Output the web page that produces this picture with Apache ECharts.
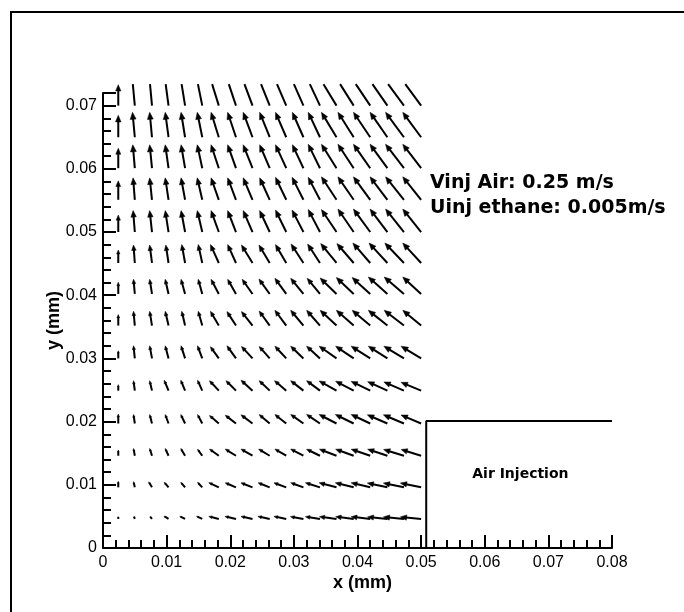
<!DOCTYPE html>
<html>
<head>
<meta charset="utf-8">
<script src="https://cdn.jsdelivr.net/npm/echarts@6/dist/echarts.min.js"></script>
<style>html,body{margin:0;padding:0;background:#fff}#c{width:684px;height:612px}</style>
</head>
<body>
<div id="c"></div>
<script>
// ---- data ----
const xGrid = [0.0024, 0.0050, 0.0077, 0.0103, 0.0129, 0.0156, 0.0182, 0.0209, 0.0235, 0.0262, 0.0288, 0.0315, 0.0341, 0.0367, 0.0394, 0.0420, 0.0447, 0.0473, 0.0500];
const yGrid = [0.0046, 0.0096, 0.0146, 0.0197, 0.0249, 0.0300, 0.0352, 0.0402, 0.0451, 0.0500, 0.0551, 0.0601, 0.0650, 0.0700];
// vector components (relative units), one row per yGrid entry, bottom to top
const U = [
  [0, -0.8, -2.0, -4.5, -5.3, -5.7, -10.0, -11.0, -11.5, -11.8, -12.3, -13.0, -14.5, -17.0, -18.0, -19.0, -19.8, -20.5, -20.7],
  [0, -1.3, -3.3, -4.3, -4.3, -4.7, -10.0, -10.7, -11.5, -11.5, -12.3, -12.7, -14.5, -17.3, -18.3, -19.0, -20.0, -20.5, -20.7],
  [0, -1.3, -2.3, -3.3, -4.3, -4.7, -9.3, -10.7, -11.5, -11.0, -11.3, -12.7, -13.3, -17.0, -18.0, -19.0, -19.7, -20.3, -20.0],
  [0, -1.3, -2.3, -3.3, -4.3, -4.7, -9.3, -10.7, -11.5, -10.5, -11.3, -12.7, -13.3, -17.3, -18.3, -19.0, -20.0, -20.5, -20.0],
  [0, -1.3, -2.3, -4.3, -4.3, -4.7, -9.3, -10.0, -11.5, -10.5, -11.7, -12.7, -13.3, -17.3, -18.0, -19.0, -19.7, -20.0, -20.0],
  [0, -1.3, -2.3, -3.3, -4.0, -4.7, -8.3, -9.0, -11.0, -10.5, -11.3, -12.7, -13.3, -17.3, -18.0, -19.0, -19.0, -20.0, -20.0],
  [0, -1.3, -2.3, -3.3, -3.3, -4.0, -8.3, -9.0, -11.0, -10.5, -11.3, -12.7, -13.3, -16.3, -17.3, -18.0, -19.0, -19.7, -18.3],
  [0, -1.3, -2.3, -3.3, -4.0, -4.0, -7.7, -8.3, -10.3, -10.7, -11.3, -12.7, -12.7, -16.3, -17.3, -18.0, -19.0, -19.7, -18.3],
  [0, -1.3, -2.3, -2.7, -3.3, -4.0, -8.3, -8.3, -11.0, -10.7, -10.7, -12.3, -12.3, -15.7, -16.7, -17.3, -18.3, -19.0, -18.3],
  [0, -1.7, -2.3, -3.3, -4.0, -5.0, -7.7, -8.3, -9.3, -10.0, -10.7, -11.3, -11.7, -15.0, -15.7, -16.7, -17.3, -18.3, -18.3],
  [0, -1.7, -2.3, -3.3, -4.0, -5.0, -7.7, -8.3, -9.3, -10.0, -10.7, -11.3, -11.7, -15.0, -15.7, -16.7, -17.3, -18.3, -18.3],
  [0, -2.0, -2.3, -3.3, -4.0, -5.0, -7.7, -8.3, -9.3, -10.0, -10.7, -11.0, -11.7, -15.0, -15.7, -16.7, -17.3, -18.3, -18.3],
  [0, -2.3, -2.3, -3.3, -4.0, -5.0, -7.7, -8.3, -9.3, -10.0, -10.7, -11.0, -11.7, -15.0, -15.7, -16.7, -17.3, -18.3, -18.3],
  [0, -2.3, -2.3, -3.3, -4.0, -5.0, -7.7, -8.3, -9.3, -10.0, -10.7, -11.0, -11.7, -15.0, -15.7, -16.7, -17.3, -18.3, -18.3]
];
const V = [
  [2.2, 2.5, 2.5, 2.8, 2.7, 2.7, 2.5, 2.5, 2.5, 2.5, 2.5, 2.3, 2.3, 2.2, 2.2, 2.2, 2.0, 2.0, 2.0],
  [6.0, 5.7, 5.5, 5.0, 5.0, 5.0, 4.7, 4.5, 4.5, 4.5, 4.5, 4.5, 4.5, 4.5, 4.5, 4.5, 4.3, 4.3, 4.3],
  [5.7, 7.3, 7.3, 7.3, 7.3, 6.5, 6.7, 6.7, 6.7, 6.7, 6.7, 6.7, 6.5, 6.5, 6.5, 6.5, 6.5, 6.3, 6.3],
  [9.5, 9.0, 9.0, 9.0, 9.0, 9.0, 8.0, 8.3, 8.7, 9.0, 9.0, 9.0, 9.0, 9.0, 9.0, 9.0, 8.7, 8.7, 8.5],
  [6.0, 10.0, 10.0, 10.5, 10.5, 10.5, 10.0, 10.0, 10.5, 10.0, 10.0, 10.0, 10.0, 9.7, 9.5, 9.3, 9.0, 8.7, 8.3],
  [7.7, 12.7, 12.7, 12.7, 12.7, 12.7, 11.7, 12.7, 12.0, 12.0, 12.3, 12.3, 12.3, 12.3, 12.3, 12.3, 12.3, 12.3, 12.3],
  [11.0, 14.3, 14.3, 14.3, 14.3, 14.3, 14.3, 14.0, 14.0, 14.5, 15.3, 15.3, 15.3, 15.3, 15.3, 15.3, 15.3, 15.3, 15.3],
  [11.7, 14.7, 14.7, 14.7, 14.7, 14.7, 14.7, 14.7, 14.7, 15.0, 15.7, 15.7, 15.7, 16.0, 16.5, 16.5, 17.0, 17.0, 17.0],
  [13.0, 18.0, 18.0, 18.0, 18.5, 18.5, 18.5, 18.5, 18.0, 18.0, 18.5, 19.0, 19.0, 19.5, 19.5, 20.0, 20.0, 20.0, 20.0],
  [17.0, 21.5, 21.5, 21.5, 21.5, 21.5, 21.5, 21.5, 21.5, 21.5, 22.0, 22.0, 22.5, 22.5, 23.0, 23.0, 23.0, 23.0, 23.0],
  [19.0, 22.0, 22.0, 22.0, 22.0, 22.0, 22.0, 22.0, 22.0, 22.0, 22.5, 22.5, 22.5, 23.0, 23.0, 23.0, 23.0, 23.0, 23.0],
  [20.0, 23.5, 23.5, 23.5, 23.5, 23.5, 23.5, 23.5, 23.5, 23.5, 23.5, 23.5, 24.0, 24.0, 24.0, 24.0, 24.0, 24.0, 24.0],
  [22.0, 25.0, 25.0, 25.0, 25.0, 25.0, 25.0, 25.0, 25.0, 25.0, 25.0, 25.0, 25.0, 25.0, 25.0, 25.0, 25.0, 25.0, 25.0],
  [21.0, 25.0, 25.0, 25.0, 25.0, 25.0, 25.0, 25.0, 25.0, 25.0, 25.0, 25.0, 25.0, 25.0, 25.0, 25.0, 25.0, 25.0, 25.0]
];
const injectionBox = [[0.0508, 0], [0.0508, 0.0201], [0.08, 0.0201]];
const injectionLabel = [[0.0656, 0.0117, 'Air Injection']];
const xTicks = { min: 0, max: 0.08, step: 0.01 };
const yTicks = { min: 0, max: 0.072, step: 0.01 };
const annotationLines = ['Vinj Air: 0.25 m/s', 'Uinj ethane: 0.005m/s'];

// ---- rendering ----
const VEC_SCALE = 0.01 / 63.4;   // vector units -> axis units
const CLIP_TOP = 0.0734;
const FONT = '"Liberation Sans", Arial, sans-serif';
const BOLD_FONT = '"DejaVu Sans", sans-serif';

const arrowData = [];
yGrid.forEach((y, r) => xGrid.forEach((x, c) => arrowData.push([x, y, U[r][c], V[r][c]])));

function renderArrow(params, api) {
  const x = api.value(0), y = api.value(1), u = api.value(2), v = api.value(3);
  let hx = x + u * VEC_SCALE, hy = y + v * VEC_SCALE;
  let clipped = false;
  if (hy > CLIP_TOP) {
    const t = (CLIP_TOP - y) / (hy - y);
    hx = x + (hx - x) * t; hy = CLIP_TOP; clipped = true;
  }
  const p0 = api.coord([x, y]);
  const p1 = api.coord([hx, hy]);
  const dx = p1[0] - p0[0], dy = p1[1] - p0[1];
  const L = Math.sqrt(dx * dx + dy * dy);
  const children = [];
  if (L < 1.2) {
    children.push({ type: 'rect', shape: { x: p0[0] - 1, y: p0[1] - 1.5, width: 2, height: 2 }, style: { fill: '#000' } });
    return { type: 'group', children };
  }
  const ux = dx / L, uy = dy / L;
  if (clipped) {
    children.push({ type: 'line', shape: { x1: p0[0], y1: p0[1], x2: p1[0], y2: p1[1] }, style: { stroke: '#000', lineWidth: 2 } });
  } else {
    const h = Math.min(7, 0.3 * L);
    const w = h * 0.42;
    const bx = p1[0] - ux * h, by = p1[1] - uy * h;
    children.push({ type: 'line', shape: { x1: p0[0], y1: p0[1], x2: bx + ux * 0.5, y2: by + uy * 0.5 }, style: { stroke: '#000', lineWidth: 2 } });
    children.push({ type: 'polygon', shape: { points: [[p1[0], p1[1]], [bx - uy * w, by + ux * w], [bx + uy * w, by - ux * w]] }, style: { fill: '#000', stroke: '#000', lineWidth: 0.5 } });
  }
  return { type: 'group', children };
}

function renderLabel(params, api) {
  const p = api.coord([api.value(0), api.value(1)]);
  return {
    type: 'text', x: p[0], y: p[1],
    style: { text: injectionLabel[params.dataIndex][2], font: 'bold 14px ' + BOLD_FONT, fill: '#000', align: 'center', verticalAlign: 'middle' }
  };
}

const axisCommon = {
  axisLine: { show: true, onZero: false, lineStyle: { color: '#000', width: 2 } },
  axisTick: { show: true, inside: true, length: 13, lineStyle: { color: '#000', width: 2 } },
  minorTick: { show: true, splitNumber: 5, length: 8, lineStyle: { color: '#000', width: 2 } },
  splitLine: { show: false },
  minorSplitLine: { show: false },
  axisLabel: { color: '#000', fontFamily: FONT, fontSize: 16 },
  nameTextStyle: { color: '#000', fontFamily: FONT, fontSize: 18, fontWeight: 'bold' }
};

const chart = echarts.init(document.getElementById('c'), null, { renderer: 'canvas' });
chart.setOption({
  backgroundColor: '#fff',
  animation: false,
  grid: { left: 103, right: 72, top: 93, bottom: 64, containLabel: false },
  xAxis: Object.assign({}, axisCommon, {
    type: 'value', min: xTicks.min, max: xTicks.max, interval: xTicks.step,
    name: 'x (mm)', nameLocation: 'middle', nameGap: 26, nameMoveOverlap: false,
    nameTextStyle: Object.assign({}, axisCommon.nameTextStyle, { padding: [0, 0, 0, 10] }),
    axisLabel: Object.assign({}, axisCommon.axisLabel, { margin: 7 })
  }),
  yAxis: Object.assign({}, axisCommon, {
    type: 'value', min: yTicks.min, max: yTicks.max, interval: yTicks.step,
    name: 'y (mm)', nameLocation: 'middle', nameRotate: 90, nameGap: 40, nameMoveOverlap: false,
    axisLabel: Object.assign({}, axisCommon.axisLabel, { margin: 6, showMaxLabel: false })
  }),
  graphic: [
    { type: 'rect', shape: { x: 11, y: 12, width: 720, height: 720 }, style: { fill: 'none', stroke: '#000', lineWidth: 2 }, z: 100 },
    { type: 'text', left: 430, top: 174, style: { text: annotationLines[0], font: 'bold 19px ' + BOLD_FONT, fill: '#000' }, z: 100 },
    { type: 'text', left: 430, top: 199, style: { text: annotationLines[1], font: 'bold 19px ' + BOLD_FONT, fill: '#000' }, z: 100 }
  ],
  series: [
    {
      type: 'custom', name: 'velocity', data: arrowData, renderItem: renderArrow, clip: false,
      encode: { x: 0, y: 1 }, z: 5
    },
    {
      type: 'line', name: 'box', data: injectionBox, showSymbol: false, symbol: 'none',
      lineStyle: { color: '#000', width: 2 }, z: 6, silent: true
    },
    {
      type: 'custom', name: 'label', data: injectionLabel, renderItem: renderLabel,
      encode: { x: 0, y: 1 }, z: 7, silent: true
    }
  ]
});
</script>
</body>
</html>
